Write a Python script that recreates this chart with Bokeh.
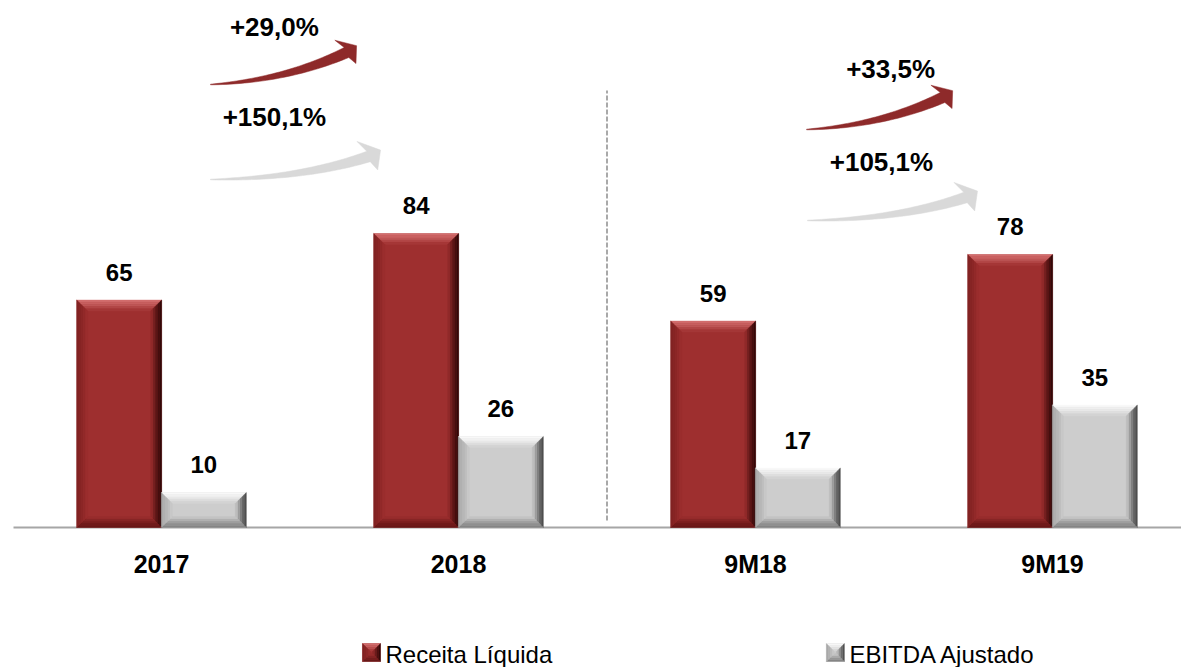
import numpy as np
from bokeh.plotting import figure
from bokeh.models import ColumnDataSource
from bokeh.core.properties import value
from bokeh.embed import file_html
from bokeh.resources import INLINE

# ---------------- data ----------------
categories = ["2017", "2018", "9M18", "9M19"]
receita = [65, 84, 59, 78]
ebitda = [10, 26, 17, 35]
series_names = ["Receita Líquida", "EBITDA Ajustado"]
growth_receita = ["+29,0%", "+33,5%"]      # 2017->2018, 9M18->9M19
growth_ebitda = ["+150,1%", "+105,1%"]

# ---------------- layout constants ----------------
W, H = 1181, 667
PX_X = 297.0          # pixels per category step
PX_Y = 3.5            # pixels per value unit
BASE = 527.0          # pixel row of the zero line
X0 = -161.0 / PX_X
Y_TOP = BASE / PX_Y
Y_BOT = -(H - BASE) / PX_Y
TXT_SHIFT = 11.0      # px correction for text baseline placement

BAR_W = 85.0 / PX_X
OFF = 0.1425

def dx(px):
    return px / PX_X

def dy(px):
    return px / PX_Y

RED = (158, 47, 47)
RED_EDGES = {"top": (212, 112, 112), "right": (45, 6, 6), "bottom": (100, 22, 22), "left": (128, 34, 34)}
GRAY = (205, 205, 205)
GRAY_EDGES = {"top": (250, 250, 250), "right": (72, 72, 72), "bottom": (128, 128, 128), "left": (168, 168, 168)}

def hexc(c):
    return "#%02x%02x%02x" % tuple(int(round(v)) for v in c)

def mix(a, b, t):
    return tuple(a[i] * (1 - t) + b[i] * t for i in range(3))

def bevel(x0, x1, y0, y1, b, body, edges, n=5):
    xs, ys, cs = [], [], []
    b = min(b, (y1 - y0) * PX_Y / 2.2)
    for k in range(n):
        d0 = b * k / n
        d1 = b * (k + 1) / n
        t = (k + 0.5) / n
        for side, ec in edges.items():
            col = hexc(mix(ec, body, t ** 1.3))
            if side == "top":
                px = [x0 + dx(d0), x1 - dx(d0), x1 - dx(d1), x0 + dx(d1)]
                py = [y1 - dy(d0), y1 - dy(d0), y1 - dy(d1), y1 - dy(d1)]
            elif side == "right":
                px = [x1 - dx(d0), x1 - dx(d0), x1 - dx(d1), x1 - dx(d1)]
                py = [y1 - dy(d0), y0 + dy(d0), y0 + dy(d1), y1 - dy(d1)]
            elif side == "bottom":
                px = [x0 + dx(d0), x1 - dx(d0), x1 - dx(d1), x0 + dx(d1)]
                py = [y0 + dy(d0), y0 + dy(d0), y0 + dy(d1), y0 + dy(d1)]
            else:
                px = [x0 + dx(d0), x0 + dx(d0), x0 + dx(d1), x0 + dx(d1)]
                py = [y0 + dy(d0), y1 - dy(d0), y1 - dy(d1), y0 + dy(d1)]
            xs.append(px); ys.append(py); cs.append(col)
    return xs, ys, cs

p = figure(width=W, height=H, output_backend="svg", toolbar_location=None,
           x_range=(X0, X0 + W / PX_X), y_range=(Y_BOT, Y_TOP),
           min_border=0, min_border_left=0, min_border_right=0,
           min_border_top=0, min_border_bottom=0)
p.xaxis.visible = False
p.yaxis.visible = False
p.grid.visible = False
p.outline_line_color = None
p.background_fill_color = "white"
p.border_fill_color = "white"

xpos = np.arange(len(categories), dtype=float)

# baseline
p.segment(x0=[X0 + dx(13)], y0=[0], x1=[X0 + W / PX_X], y1=[0], line_color="#a6a6a6", line_width=2)

# separator
p.segment(x0=[1.5], y0=[dy(7)], x1=[1.5], y1=[dy(437)], line_color="#8c8c8c",
          line_width=1.5, line_dash="5 2")

# bars
src = ColumnDataSource(dict(xr=xpos - OFF, xe=xpos + OFF, r=receita, e=ebitda))
p.vbar(x="xr", top="r", width=BAR_W, bottom=0, source=src, fill_color=hexc(RED), line_color=None)
p.vbar(x="xe", top="e", width=BAR_W, bottom=0, source=src, fill_color=hexc(GRAY), line_color=None)

BX, BY, BC = [], [], []
for i in range(len(categories)):
    for xc, v, body, edges in [(xpos[i] - OFF, receita[i], RED, RED_EDGES),
                               (xpos[i] + OFF, ebitda[i], GRAY, GRAY_EDGES)]:
        a, b_, c = bevel(xc - BAR_W / 2, xc + BAR_W / 2, 0, v, 11, body, edges)
        BX += a; BY += b_; BC += c
p.patches(xs=BX, ys=BY, fill_color=BC, line_color=BC, line_width=0.4)

BOLD = value("Liberation Sans")

# value labels
p.text(x=list(xpos - OFF), y=[v + dy(17 + TXT_SHIFT) for v in receita], text=[str(v) for v in receita],
       text_font=BOLD, text_font_style="bold", text_font_size="24px",
       text_align="center", text_baseline="alphabetic", text_color="black")
p.text(x=list(xpos + OFF), y=[v + dy(17 + TXT_SHIFT) for v in ebitda], text=[str(v) for v in ebitda],
       text_font=BOLD, text_font_style="bold", text_font_size="24px",
       text_align="center", text_baseline="alphabetic", text_color="black")

# category labels
p.text(x=list(xpos), y=[-dy(47 - TXT_SHIFT)] * len(categories), text=categories,
       text_font=BOLD, text_font_style="bold", text_font_size="25px",
       text_align="center", text_baseline="alphabetic", text_color="black")

# ---------------- growth arrows ----------------
HEAD = [(-5.5, 16.0), (12.0, 2.0), (4.0, -14.0)]

def arrow(tx, ty, E, C, w, hs):
    # px offsets relative to tail, screen coords (y down)
    t = np.linspace(0, 1, 40)
    P0 = np.array([0.0, 0.0]); Pc = np.array(C); P2 = np.array(E)
    pts = ((1 - t) ** 2)[:, None] * P0 + (2 * (1 - t) * t)[:, None] * Pc + (t ** 2)[:, None] * P2
    der = (2 * (1 - t))[:, None] * (Pc - P0) + (2 * t)[:, None] * (P2 - Pc)
    der = der / np.linalg.norm(der, axis=1)[:, None]
    nrm = np.stack([der[:, 1], -der[:, 0]], axis=1)
    ww = (0.6 + (w - 0.6) * t ** 0.9) / 2
    upper = pts + nrm * ww[:, None]
    lower = pts - nrm * ww[:, None]
    d, n = der[-1], nrm[-1]
    head = [P2 + hs * (u * d + v * n) for u, v in HEAD]
    poly = list(upper) + head + list(lower[::-1])
    xs = [tx + q[0] / PX_X for q in poly]
    ys = [ty - q[1] / PX_Y for q in poly]
    return xs, ys

pairs = [(0, 1), (2, 3)]
red_tail = [(0.165, dy(443)), (0.172, dy(398))]
gray_tail = [(0.165, dy(348)), (0.175, dy(307))]
red_lab = [(0.38, dy(490 + TXT_SHIFT)), (0.455, dy(448 + TXT_SHIFT))]
gray_lab = [(0.38, dy(400 + TXT_SHIFT)), (0.424, dy(355 + TXT_SHIFT))]

AX, AY, AC = [], [], []
lx, ly, lt = [], [], []
for k, (a, b_) in enumerate(pairs):
    xs, ys = arrow(xpos[a] + red_tail[k][0], red_tail[k][1], (136, -32), (75, -4), 11, 1.0)
    AX.append(xs); AY.append(ys); AC.append("#8e2a2a")
    xs, ys = arrow(xpos[a] + gray_tail[k][0], gray_tail[k][1], (158, -23), (92, -1), 11, 1.12)
    AX.append(xs); AY.append(ys); AC.append("#d9d9d9")
    lx += [xpos[a] + red_lab[k][0], xpos[a] + gray_lab[k][0]]
    ly += [red_lab[k][1], gray_lab[k][1]]
    lt += [growth_receita[k], growth_ebitda[k]]
p.patches(xs=AX, ys=AY, fill_color=AC, line_color=AC, line_width=0.5)
p.text(x=lx, y=ly, text=lt, text_font=BOLD, text_font_style="bold", text_font_size="26px",
       text_align="center", text_baseline="alphabetic", text_color="black")

# ---------------- legend ----------------
leg_x = [0.707, 2.269]
leg_y = -dy(125)
sq = 18.0
LX, LY, LC = [], [], []
for k, (body, edges) in enumerate([(RED, RED_EDGES), (GRAY, GRAY_EDGES)]):
    x0 = leg_x[k] - dx(sq / 2); x1 = leg_x[k] + dx(sq / 2)
    y0 = leg_y - dy(sq / 2); y1 = leg_y + dy(sq / 2)
    LX.append([x0, x1, x1, x0]); LY.append([y0, y0, y1, y1]); LC.append(hexc(body))
    a, b_, c = bevel(x0, x1, y0, y1, 8, body, edges, n=4)
    LX += a; LY += b_; LC += c
p.patches(xs=LX, ys=LY, fill_color=LC, line_color=LC, line_width=0.3)
p.text(x=[lx_ + dx(14) for lx_ in leg_x], y=[-dy(127)] * 2, text=series_names,
       text_font=value("Liberation Sans"), text_font_size="24px",
       text_align="left", text_baseline="alphabetic", text_color="black")

open("out.html", "w").write(file_html(p, INLINE))
